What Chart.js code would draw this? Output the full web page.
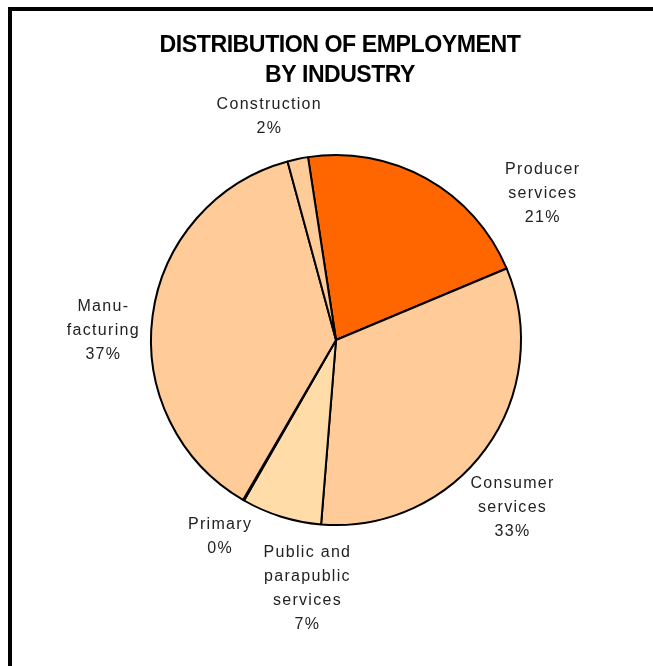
<!DOCTYPE html>
<html><head><meta charset="utf-8">
<script src="https://cdn.jsdelivr.net/npm/chart.js@4.4.0/dist/chart.umd.min.js"></script>
<style>html,body{margin:0;padding:0;background:#fff;overflow:hidden}#wrap{width:653px;height:666px;position:relative}</style>
</head><body><div id="wrap"><canvas id="c"></canvas></div>
<script>
const categories = ['Producer services','Consumer services','Public and parapublic services','Primary','Manufacturing','Construction'];
const labelLines = [['Producer','services'],['Consumer','services'],['Public and','parapublic','services'],['Primary'],['Manu-','facturing'],['Construction']];
const shares = [21.1, 32.6, 7.0, 0.1, 37.4, 1.8];
const titleLines = ['DISTRIBUTION OF EMPLOYMENT','BY INDUSTRY'];

const sliceColors = ['#FF6600','#FFCC99','#FFDCA8','#000000','#FFCC99','#FFCC99'];
const labelOffsets = [[1.114,-0.793],[0.951,0.908],[-0.158,1.342],[-0.630,1.065],[-1.261,-0.049],[-0.364,-1.207]];

const total = shares.reduce((a,b)=>a+b,0);

const decor = {
  id:'decor',
  beforeDraw(chart){
    const ctx = chart.ctx;
    ctx.save();
    ctx.fillStyle='#fff';
    ctx.fillRect(0,0,chart.width,chart.height);
    ctx.strokeStyle='#000';
    ctx.lineWidth=4;
    ctx.beginPath();
    ctx.moveTo(10, chart.height+5);
    ctx.lineTo(10, 9);
    ctx.lineTo(chart.width+5, 9);
    ctx.stroke();
    ctx.restore();
  },
  afterDraw(chart){
    const ctx = chart.ctx;
    const meta = chart.getDatasetMeta(0);
    const a0 = meta.data[0];
    const cx = a0.x, cy = a0.y, r = a0.outerRadius;
    ctx.save();
    // title
    ctx.fillStyle='#000';
    ctx.textAlign='center';
    ctx.textBaseline='alphabetic';
    ctx.font='bold 24px "Liberation Sans", Arial, sans-serif';
    ctx.letterSpacing='-0.5px';
    const tx = cx + 4;
    ctx.fillText(titleLines[0], tx, cy - 288, 361);
    ctx.fillText(titleLines[1], tx, cy - 258, 150);
    // labels
    ctx.textBaseline='middle';
    ctx.font='16px "Liberation Sans", Arial, sans-serif';
    ctx.letterSpacing='1.3px';
    ctx.fillStyle='#222';
    labelLines.forEach((lines,i)=>{
      const pct = Math.round(shares[i]/total*100)+'%';
      const all = lines.concat([pct]);
      const x = cx + labelOffsets[i][0]*r + 0.65;
      const y = cy + labelOffsets[i][1]*r;
      const lh = 24;
      all.forEach((t,k)=>ctx.fillText(t, x, y + (k-(all.length-1)/2)*lh));
    });
    ctx.restore();
  }
};

new Chart(document.getElementById('c'), {
  type:'pie',
  data:{
    labels: categories,
    datasets:[{
      data: shares,
      backgroundColor: sliceColors,
      borderColor:'#000',
      borderWidth:2,
      radius:185
    }]
  },
  options:{
    responsive:true,
    maintainAspectRatio:false,
    animation:false,
    rotation:-8.7,
    layout:{padding:{left:30,right:11,top:30,bottom:16}},
    plugins:{legend:{display:false},title:{display:false},tooltip:{enabled:false}}
  },
  plugins:[decor]
});
</script>
</body></html>
